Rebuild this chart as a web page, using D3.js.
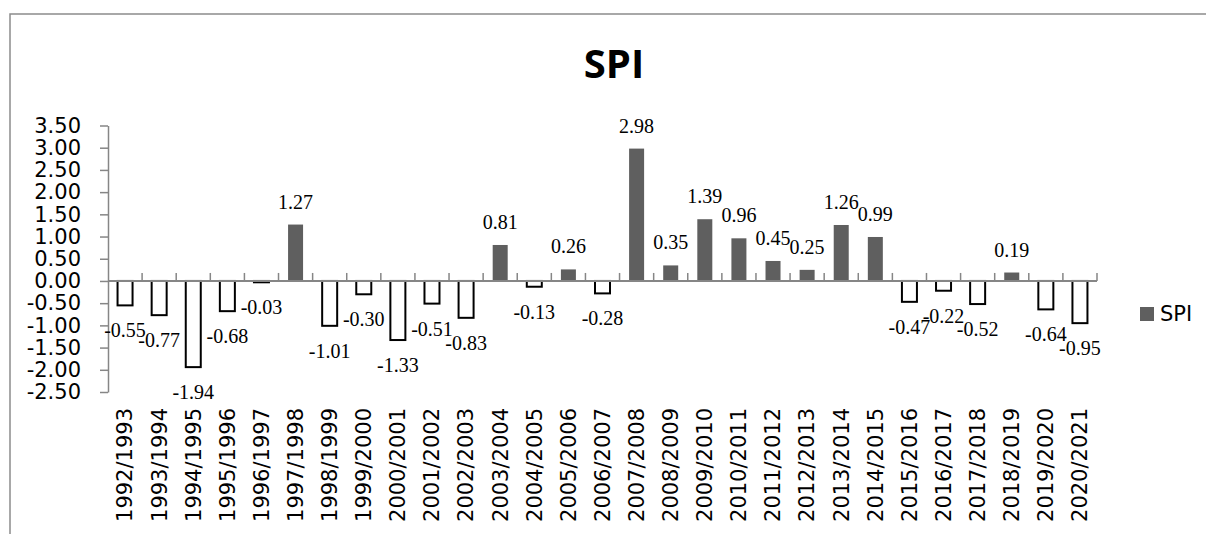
<!DOCTYPE html>
<html>
<head>
<meta charset="utf-8">
<style>
body { margin: 0; background: #fff; }
</style>
</head>
<body>
<svg width="1206" height="534"></svg>
<script src="https://cdn.jsdelivr.net/npm/d3@7"></script>
<script>

// data
var seasons = ["1992/1993","1993/1994","1994/1995","1995/1996","1996/1997","1997/1998",
  "1998/1999","1999/2000","2000/2001","2001/2002","2002/2003","2003/2004","2004/2005",
  "2005/2006","2006/2007","2007/2008","2008/2009","2009/2010","2010/2011","2011/2012",
  "2012/2013","2013/2014","2014/2015","2015/2016","2016/2017","2017/2018","2018/2019",
  "2019/2020","2020/2021"];
var spi = [-0.55,-0.77,-1.94,-0.68,-0.03,1.27,-1.01,-0.30,-1.33,-0.51,-0.83,0.81,-0.13,
  0.26,-0.28,2.98,0.35,1.39,0.96,0.45,0.25,1.26,0.99,-0.47,-0.22,-0.52,0.19,-0.64,-0.95];
var yTicks = [-2.5,-2,-1.5,-1,-0.5,0,0.5,1,1.5,2,2.5,3,3.5];

var data = seasons.map(function(s, i){ return {season: s, value: spi[i]}; });

// plot box (don't call it "top", that's window.top)
var plotLeft = 108, plotRight = 1097, plotTop = 125.5, plotBottom = 392;
var barFill = "#5f5f5f", axisGray = "#868686";

var svg = d3.select("svg");

// chart area border (runs off the right and bottom of the picture)
svg.append("rect")
  .attr("x", 10).attr("y", 14)
  .attr("width", 1300).attr("height", 600)
  .attr("fill", "none")
  .attr("stroke", "#8c8c8c")
  .attr("stroke-width", 1.5);

// scales
var xOuter = d3.scaleBand().domain(seasons).range([plotLeft, plotRight]).padding(0);
var x = d3.scaleBand().domain(seasons).range([plotLeft, plotRight]).paddingInner(0.56).paddingOuter(0.28);
var y = d3.scaleLinear().domain([-2.5, 3.5]).range([plotBottom, plotTop]);

// title
svg.append("text")
  .attr("x", 614).attr("y", 78)
  .attr("text-anchor", "middle")
  .style("font-family", "'Open Sans', sans-serif")
  .style("font-weight", "bold")
  .style("font-size", "40px")
  .text("SPI");

// y axis
var yAxis = svg.append("g")
  .attr("transform", "translate(" + plotLeft + ",0)")
  .call(d3.axisLeft(y).tickValues(yTicks).tickSize(8).tickSizeOuter(0)
    .tickFormat(function(d){ return d.toFixed(2); }));
yAxis.select(".domain").attr("stroke", axisGray).attr("stroke-width", 1.5);
yAxis.selectAll(".tick line").attr("stroke", axisGray).attr("stroke-width", 1.5);
yAxis.selectAll(".tick text")
  .attr("x", -27)
  .attr("fill", "#000")
  .style("font-family", "'DejaVu Sans', sans-serif")
  .style("font-size", "21px");

// bars
svg.selectAll(".bar")
  .data(data)
  .enter().append("rect")
  .attr("class", "bar")
  .attr("x", function(d){ return x(d.season); })
  .attr("width", x.bandwidth())
  .attr("y", function(d){ return d.value >= 0 ? y(d.value) : y(0); })
  .attr("height", function(d){ return Math.abs(y(d.value) - y(0)); })
  .attr("fill", function(d){ return d.value >= 0 ? barFill : "#fff"; })
  .attr("stroke", function(d){ return d.value >= 0 ? "none" : "#000"; })
  .attr("stroke-width", 2);

// x axis line and ticks at the category edges
svg.append("line")
  .attr("x1", plotLeft).attr("x2", plotRight)
  .attr("y1", y(0)).attr("y2", y(0))
  .attr("stroke", axisGray).attr("stroke-width", 2);
svg.selectAll(".xtick")
  .data(seasons.slice(1).concat(["end"]))
  .enter().append("line")
  .attr("class", "xtick")
  .attr("x1", function(d){ return d == "end" ? plotRight : xOuter(d); })
  .attr("x2", function(d){ return d == "end" ? plotRight : xOuter(d); })
  .attr("y1", y(0)).attr("y2", y(0) - 8)
  .attr("stroke", axisGray).attr("stroke-width", 1.5);

// category labels, rotated
svg.selectAll(".xlabel")
  .data(seasons)
  .enter().append("text")
  .attr("class", "xlabel")
  .attr("transform", function(d){
    return "translate(" + (xOuter(d) + xOuter.bandwidth() / 2) + ",408) rotate(-90)";
  })
  .attr("dy", "0.35em")
  .attr("text-anchor", "end")
  .style("font-family", "'DejaVu Sans', sans-serif")
  .style("font-size", "21px")
  .text(function(d){ return d; });

// value labels
svg.selectAll(".vlabel")
  .data(data)
  .enter().append("text")
  .attr("class", "vlabel")
  .attr("x", function(d){ return xOuter(d.season) + xOuter.bandwidth() / 2; })
  .attr("y", function(d){ return d.value >= 0 ? y(d.value) - 16 : y(d.value) + 32; })
  .attr("text-anchor", "middle")
  .style("font-family", "'Liberation Serif', serif")
  .style("font-size", "20px")
  .text(function(d){ return d.value.toFixed(2); });

// legend
svg.append("rect")
  .attr("x", 1140).attr("y", 307)
  .attr("width", 14).attr("height", 14)
  .attr("fill", barFill);
svg.append("text")
  .attr("x", 1160).attr("y", 321)
  .style("font-family", "'DejaVu Sans', sans-serif")
  .style("font-size", "21px")
  .text("SPI");

</script>
</body>
</html>
